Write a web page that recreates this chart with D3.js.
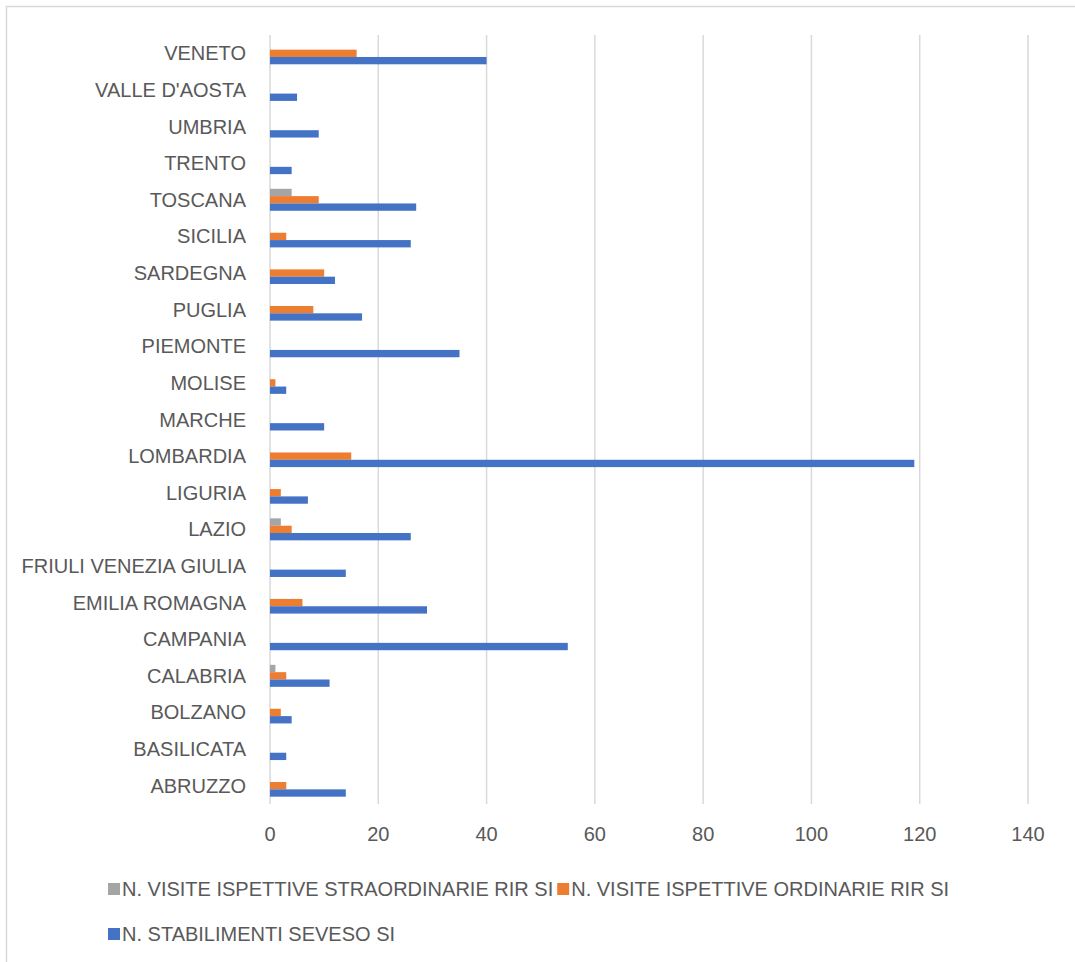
<!DOCTYPE html>
<meta charset="utf-8">
<style>
body{
  margin: 0;
  background: #fff;
}
svg{
  display: block;
  font-family: "Liberation Sans", Arial, sans-serif;
}
</style>

<svg width="1075" height="962"></svg>
<script src="https://d3js.org/d3.v7.min.js"></script>
<script>

var regions = ["ABRUZZO", "BASILICATA", "BOLZANO", "CALABRIA", "CAMPANIA",
  "EMILIA ROMAGNA", "FRIULI VENEZIA GIULIA", "LAZIO", "LIGURIA", "LOMBARDIA",
  "MARCHE", "MOLISE", "PIEMONTE", "PUGLIA", "SARDEGNA", "SICILIA", "TOSCANA",
  "TRENTO", "UMBRIA", "VALLE D'AOSTA", "VENETO"];

// values in the same order as regions (ABRUZZO .. VENETO)
var straordinarie = [0, 0, 0, 1, 0, 0, 0, 2, 0, 0, 0, 0, 0, 0, 0, 0, 4, 0, 0, 0, 0];
var ordinarie     = [3, 0, 2, 3, 0, 6, 0, 4, 2, 15, 0, 1, 0, 8, 10, 3, 9, 0, 0, 0, 16];
var stabilimenti  = [14, 3, 4, 11, 55, 29, 14, 26, 7, 119, 10, 3, 35, 17, 12, 26, 27, 4, 9, 5, 40];

var seriesNames = [
  "N. VISITE ISPETTIVE STRAORDINARIE RIR SI",
  "N. VISITE ISPETTIVE ORDINARIE RIR SI",
  "N. STABILIMENTI SEVESO SI"
];
var seriesValues = [straordinarie, ordinarie, stabilimenti];
var colors = ["#a5a5a5", "#ed7d31", "#4472c4"];

var xTicks = [0, 20, 40, 60, 80, 100, 120, 140];

var svg = d3.select("svg");
var textColor = "#595959";
var fontSize = 20;

// chart area border (only top/left visible in the frame)
svg.append("rect")
    .attr("x", 6.5).attr("y", 6.5)
    .attr("width", 1080).attr("height", 970)
    .attr("fill", "none")
    .attr("stroke", "#d9d9d9")
    .attr("stroke-width", 1.5);

var x = d3.scaleLinear().domain([0, 140]).range([270, 1028]);

var y = d3.scaleBand()
    .domain(regions.slice().reverse())
    .range([35, 804])
    .padding(0);

var step = y.bandwidth();
var inner = d3.scaleBand()
    .domain(d3.range(3))
    .range([step * 0.2, step * 0.8])
    .padding(0);

// gridlines
svg.append("g")
  .selectAll("line")
  .data(xTicks)
  .join("line")
    .attr("x1", d => x(d)).attr("x2", d => x(d))
    .attr("y1", 35).attr("y2", 804)
    .attr("stroke", "#d9d9d9")
    .attr("stroke-width", 1.5);

// tick labels
svg.append("g")
  .selectAll("text")
  .data(xTicks)
  .join("text")
    .attr("x", d => x(d))
    .attr("y", 841)
    .attr("text-anchor", "middle")
    .attr("font-size", fontSize)
    .attr("fill", textColor)
    .text(d => d);

// category labels
svg.append("g")
  .selectAll("text")
  .data(regions)
  .join("text")
    .attr("x", 246)
    .attr("y", d => y(d) + step / 2 + 7)
    .attr("text-anchor", "end")
    .attr("font-size", fontSize)
    .attr("fill", textColor)
    .text(d => d);

// bars
var groups = svg.append("g")
  .selectAll("g")
  .data(seriesValues)
  .join("g")
    .attr("fill", (d, i) => colors[i]);

groups.each(function(vals, s) {
  d3.select(this).selectAll("rect")
    .data(vals)
    .join("rect")
      .attr("x", x(0))
      .attr("y", (d, i) => y(regions[i]) + inner(s))
      .attr("width", d => x(d) - x(0))
      .attr("height", inner.bandwidth());
});

// legend
var legend = svg.append("g");
var rows = [[0, 1], [2]];
var rowY = [889, 934];
rows.forEach(function(row, r) {
  var cx = 108;
  row.forEach(function(s) {
    legend.append("rect")
        .attr("x", cx).attr("y", rowY[r] - 6)
        .attr("width", 12).attr("height", 12)
        .attr("fill", colors[s]);
    var t = legend.append("text")
        .attr("x", cx + 14)
        .attr("y", rowY[r] + 7)
        .attr("font-size", fontSize)
        .attr("fill", textColor)
        .text(seriesNames[s]);
    cx += 14 + t.node().getComputedTextLength() + 4;
  });
});

</script>
